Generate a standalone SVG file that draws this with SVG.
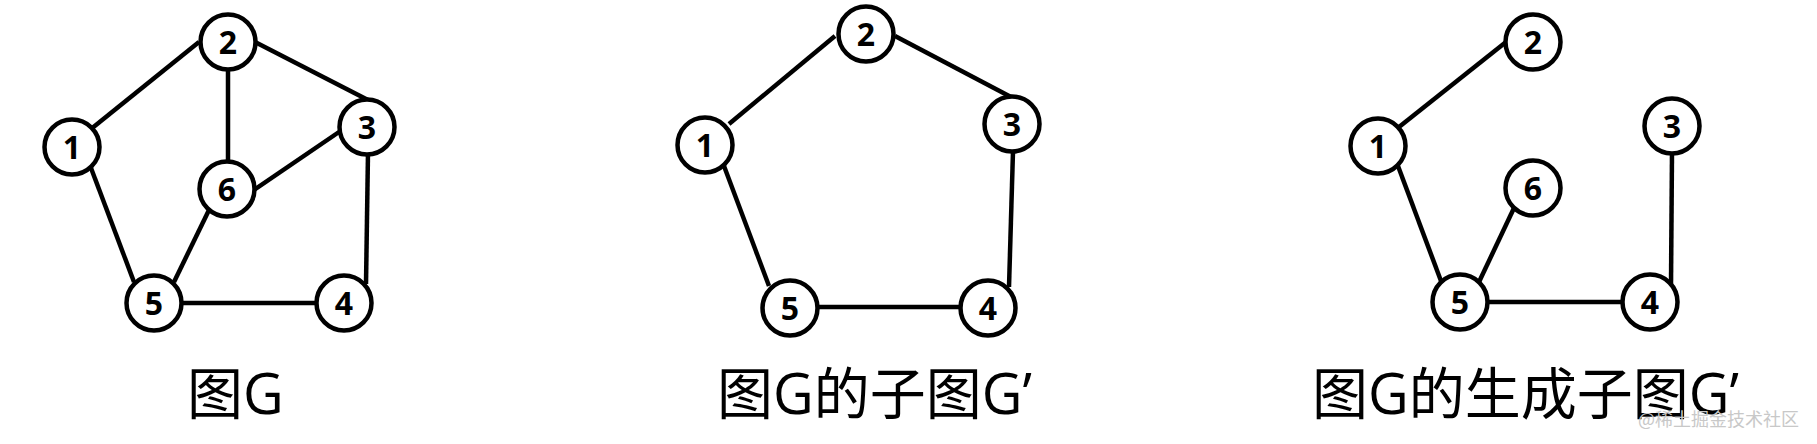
<svg xmlns="http://www.w3.org/2000/svg" width="1817" height="444" viewBox="0 0 1817 444">
<style>
.e{stroke:#000;stroke-width:4.5;fill:none}
.n circle{fill:#fff;stroke:#000;stroke-width:4.5}
.n text{font-family:"Open Sans","Liberation Sans",sans-serif;font-weight:700;font-size:32px;text-anchor:middle;fill:#000}
.cap{font-family:"Open Sans","Noto Sans CJK SC",sans-serif;font-size:56px;fill:#000}
.wm{font-family:"Noto Sans CJK SC",sans-serif;font-size:18px;fill:#c8c8c8}
</style>
<rect width="1817" height="444" fill="#fff"/>
<g id="connectors">
<line class="e" x1="91" y1="129" x2="199" y2="42"/>
<line class="e" x1="255" y1="42" x2="368" y2="100"/>
<line class="e" x1="228" y1="68" x2="228" y2="162"/>
<line class="e" x1="339" y1="132" x2="254" y2="190"/>
<line class="e" x1="91" y1="168" x2="134" y2="282"/>
<line class="e" x1="209" y1="210" x2="174" y2="282"/>
<line class="e" x1="180" y1="303" x2="318" y2="303"/>
<line class="e" x1="368" y1="152" x2="366" y2="284"/>
<line class="e" x1="729" y1="124" x2="835" y2="36"/>
<line class="e" x1="895" y1="36" x2="1011" y2="97"/>
<line class="e" x1="1013" y1="151" x2="1009" y2="287"/>
<line class="e" x1="817" y1="307" x2="961" y2="307"/>
<line class="e" x1="724" y1="166" x2="769" y2="286"/>
<line class="e" x1="1399" y1="127" x2="1506" y2="42"/>
<line class="e" x1="1398" y1="166" x2="1441" y2="281"/>
<line class="e" x1="1514" y1="208" x2="1479" y2="282"/>
<line class="e" x1="1486" y1="302" x2="1624" y2="302"/>
<line class="e" x1="1672" y1="152" x2="1671" y2="285"/>
</g>
<g id="g1-n1" class="n"><circle cx="72" cy="147" r="27.5"/><text x="72" y="158.5">1</text></g>
<g id="g1-n2" class="n"><circle cx="228" cy="42" r="27.5"/><text x="228" y="53.5">2</text></g>
<g id="g1-n3" class="n"><circle cx="367" cy="127" r="27.5"/><text x="367" y="138.5">3</text></g>
<g id="g1-n4" class="n"><circle cx="344" cy="303" r="27.5"/><text x="344" y="314.5">4</text></g>
<g id="g1-n5" class="n"><circle cx="154" cy="303" r="27.5"/><text x="154" y="314.5">5</text></g>
<g id="g1-n6" class="n"><circle cx="227" cy="189" r="27.5"/><text x="227" y="200.5">6</text></g>
<g id="g2-n1" class="n"><circle cx="705" cy="145" r="27.5"/><text x="705" y="156.5">1</text></g>
<g id="g2-n2" class="n"><circle cx="866" cy="34" r="27.5"/><text x="866" y="45.5">2</text></g>
<g id="g2-n3" class="n"><circle cx="1012" cy="124" r="27.5"/><text x="1012" y="135.5">3</text></g>
<g id="g2-n4" class="n"><circle cx="988" cy="308" r="27.5"/><text x="988" y="319.5">4</text></g>
<g id="g2-n5" class="n"><circle cx="790" cy="308" r="27.5"/><text x="790" y="319.5">5</text></g>
<g id="g3-n1" class="n"><circle cx="1378" cy="146" r="27.5"/><text x="1378" y="157.5">1</text></g>
<g id="g3-n2" class="n"><circle cx="1533" cy="42" r="27.5"/><text x="1533" y="53.5">2</text></g>
<g id="g3-n3" class="n"><circle cx="1672" cy="126" r="27.5"/><text x="1672" y="137.5">3</text></g>
<g id="g3-n4" class="n"><circle cx="1650" cy="302" r="27.5"/><text x="1650" y="313.5">4</text></g>
<g id="g3-n5" class="n"><circle cx="1460" cy="302" r="27.5"/><text x="1460" y="313.5">5</text></g>
<g id="g3-n6" class="n"><circle cx="1533" cy="188" r="27.5"/><text x="1533" y="199.5">6</text></g>
<g id="captions">
<text class="cap" x="187" y="414">图G</text>
<text class="cap" x="717" y="414">图G的子图G’</text>
<text class="cap" x="1312" y="414">图G的生成子图G’</text>
<text class="wm" x="1638" y="426">@稀土掘金技术社区</text>
</g>
</svg>
